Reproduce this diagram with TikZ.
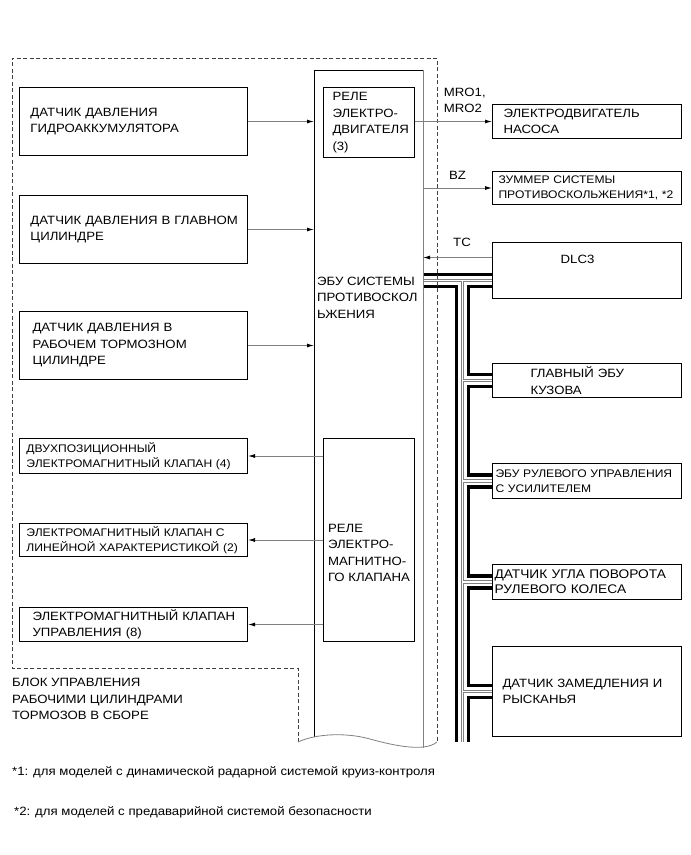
\documentclass[tikz,border=0pt]{standalone}
\usepackage{fontspec}
\setmainfont{Liberation Sans}[FakeStretch=1.1]
\usetikzlibrary{arrows.meta}
\newcommand\fbig{\fontsize{12}{16.5}\selectfont}
\newcommand\fsml{\fontsize{11}{15.5}\selectfont}

\begin{document}
\begin{tikzpicture}[x=1pt, y=-1pt,
  box/.style={draw, line width=1pt, anchor=north west, align=left, inner ysep=0pt, font=\fbig},
  sml/.style={font=\fsml},
  conn/.style={draw=gray, line width=0.9pt, -{Latex[length=7pt,width=4pt,color=black]}},
  lbl/.style={font=\fbig, inner sep=0pt},
  border/.style={dash pattern=on 4pt off 2.5pt, line width=0.9pt, black!75}]
  \useasboundingbox (0,0) rectangle (691,855);

  % ECU column
  \node[anchor=north west, minimum width=109pt, minimum height=676pt, inner sep=0pt, outer sep=0pt] (ecu) at (314,70) {};
  \coordinate (ecubl) at (314,737);
  \coordinate (ecubr) at (423,748);
  \node[box, text width=73pt, inner xsep=9pt, minimum height=70pt] (mrel) at (323,87) {РЕЛЕ\\ЭЛЕКТРО-\\ДВИГАТЕЛЯ\\(3)};
  \node[box, minimum width=91pt, minimum height=203pt,
    label={[lbl, align=left, yshift=-13pt]center:РЕЛЕ\\ЭЛЕКТРО-\\МАГНИТНО-\\ГО КЛАПАНА}] (srel) at (323,438) {};
  \node[lbl, anchor=north west, align=left] (ecutxt) at (317,276.5) {ЭБУ СИСТЕМЫ\\ПРОТИВОСКОЛ\\ЬЖЕНИЯ};

  % left column
  \node[box, text width=206pt, inner xsep=11pt, minimum height=68pt] (acc) at (19,87) {ДАТЧИК ДАВЛЕНИЯ\\ГИДРОАККУМУЛЯТОРА};
  \node[box, text width=206pt, inner xsep=11pt, minimum height=68pt] (mcyl) at (19,195) {ДАТЧИК~ДАВЛЕНИЯ~В~ГЛАВНОМ\\ЦИЛИНДРЕ};
  \node[box, text width=202pt, inner xsep=13pt, minimum height=68pt] (wcyl) at (19,311) {ДАТЧИК ДАВЛЕНИЯ В\\РАБОЧЕМ ТОРМОЗНОМ\\ЦИЛИНДРЕ};
  \node[box, sml, text width=214pt, inner xsep=7pt, minimum height=35pt] (onoff) at (19,438) {ДВУХПОЗИЦИОННЫЙ\\ЭЛЕКТРОМАГНИТНЫЙ~КЛАПАН~(4)};
  \node[box, sml, text width=214pt, inner xsep=7pt, minimum height=33pt] (linv) at (19,523) {ЭЛЕКТРОМАГНИТНЫЙ~КЛАПАН~С\\ЛИНЕЙНОЙ~ХАРАКТЕРИСТИКОЙ~(2)};
  \node[box, text width=202pt, inner xsep=13pt, minimum height=34pt] (ctlv) at (19,607) {ЭЛЕКТРОМАГНИТНЫЙ~КЛАПАН\\УПРАВЛЕНИЯ (8)};
  \node[lbl, anchor=north west, align=left] (unit) at (12,678) {БЛОК УПРАВЛЕНИЯ\\РАБОЧИМИ ЦИЛИНДРАМИ\\ТОРМОЗОВ В СБОРЕ};

  % right column
  \node[box, text width=167pt, inner xsep=11pt, minimum height=34pt] (pump) at (492,104) {ЭЛЕКТРОДВИГАТЕЛЬ\\НАСОСА};
  \node[box, sml, text width=177pt, inner xsep=6pt, minimum height=33pt] (buzz) at (492,171) {ЗУММЕР СИСТЕМЫ\\ПРОТИВОСКОЛЬЖЕНИЯ*1,~*2};
  \node[box, minimum width=189pt, minimum height=56pt,
    label={[lbl, xshift=-9.5pt, yshift=11pt]center:DLC3}] (dlc) at (492,242) {};
  \node[box, text width=113pt, inner xsep=38pt, minimum height=34pt] (body) at (492,363) {ГЛАВНЫЙ ЭБУ\\КУЗОВА};
  \node[box, sml, text width=183pt, inner xsep=3pt, minimum height=35pt] (eps) at (492,463) {ЭБУ~РУЛЕВОГО~УПРАВЛЕНИЯ\\С УСИЛИТЕЛЕМ};
  \node[box, text width=185pt, inner xsep=2pt, minimum height=35pt, font=\fontsize{12.5}{15}\selectfont] (steer) at (492,564) {ДАТЧИК~УГЛА~ПОВОРОТА\\РУЛЕВОГО КОЛЕСА};
  \node[box, text width=169pt, inner xsep=10pt, minimum height=90pt] (yaw) at (492,646) {ДАТЧИК~ЗАМЕДЛЕНИЯ~И\\РЫСКАНЬЯ};

  % CAN bus
  \coordinate (busdlc) at ([yshift=-10pt]dlc.west);
  \coordinate (trend) at (462.5,742);
  \foreach \lw/\lc in {15.5/black, 8.5/white, 3.4/gray, 1.2/white}
    \draw[line width=\lw pt, \lc] (busdlc -| ecu.east) -- (busdlc)
      (trend |- busdlc) -- (trend)
      \foreach \n in {body,eps,steer,yaw} { (trend |- \n.west) -- (\n.west) };

  % ECU outline and assembly border
  \draw[line width=1pt] (ecubl) -- (ecu.north west) -- (ecu.north east);
  \draw[gray, line width=1pt] (ecu.north east) -- (ecubr);
  \draw[border] (298,742) -- (298,668) -- (12,668) -- (12,58) -- (437,58) -- (437,742);
  \draw[gray, line width=0.8pt] (298,742) .. controls (315,734) and (345,732) .. (370,739)
    .. controls (395,746) and (425,752) .. (437,742);

  % signals
  \foreach \n in {acc,mcyl,wcyl}
    \draw[conn] (\n.east) -- (\n.east -| ecu.west);
  \foreach \n in {onoff,linv,ctlv}
    \draw[conn] (srel.west |- \n.east) -- (\n.east);
  \draw[conn] (mrel.east |- pump.west) -- (pump.west)
    node[lbl, align=left, anchor=south west, pos=0.37, yshift=8pt] {MRO1,\\MRO2};
  \draw[conn] (ecu.east |- buzz.west) -- (buzz.west)
    node[lbl, anchor=south, pos=0.5, yshift=8pt] {BZ};
  \coordinate (tcin) at ([yshift=13pt]dlc.west);
  \draw[conn] (tcin) -- (tcin -| ecu.east)
    node[lbl, anchor=south, midway, xshift=4.5pt, yshift=10pt] {TC};

  % footnotes
  \node[lbl, anchor=west] (fn1) at (12,772) {*1: для моделей с динамической радарной системой круиз-контроля};
  \node[lbl, anchor=west] (fn2) at (14,812) {*2: для моделей с предаварийной системой безопасности};
\end{tikzpicture}
\end{document}
